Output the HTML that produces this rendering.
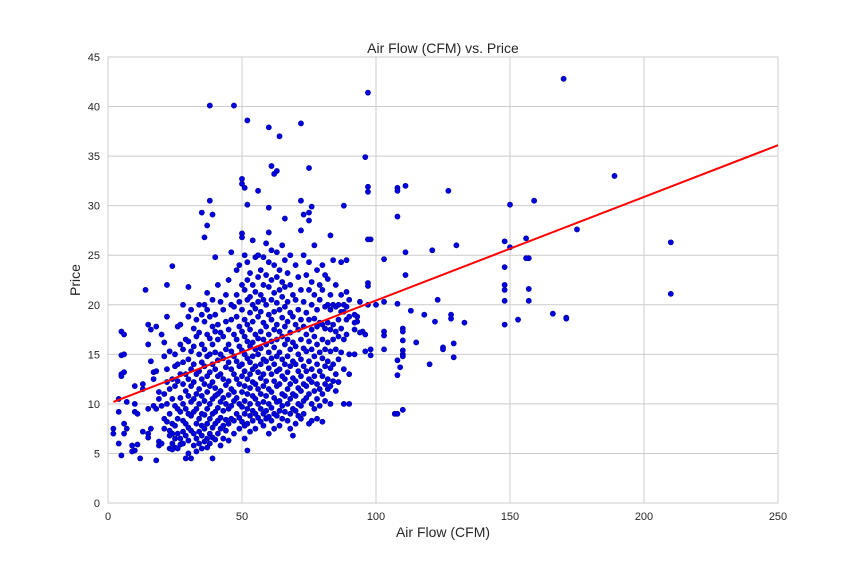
<!DOCTYPE html>
<html><head><meta charset="utf-8"><style>
body{margin:0;background:#fff;}
svg{display:block;font-family:"Liberation Sans",sans-serif;}
</style></head><body>
<svg id="chart" width="864" height="576">
<rect width="864" height="576" fill="#fff"/>
<g id="grid"></g>
<rect x="108" y="57" width="670" height="446" fill="none" stroke="#cccccc" stroke-width="1"/>
<g id="xticks"></g>
<g id="yticks"></g>
<g id="points"></g>
<g id="fit"></g>
<text x="443" y="53" text-anchor="middle" font-size="14" fill="#262626">Air Flow (CFM) vs. Price</text>
<text x="443" y="537" text-anchor="middle" font-size="14" fill="#262626">Air Flow (CFM)</text>
<text x="80" y="280" text-anchor="middle" font-size="14" fill="#262626" transform="rotate(-90 80 280)">Price</text>
</svg>
<script>
const xTicks=[0,50,100,150,200,250];
const yTicks=[0,5,10,15,20,25,30,35,40,45];
const fitX=[2,250];
const fitY=[10.2,36.1];
const outlierX=[170,97,38,47,52,60,72,64,96,61,63,75,62,50,50,51,56,97,97,108,108,111,127,189,38,35,39,52,60,66,72,76,75,73,88,108,150,159,175,210,210,37,36,40,24,22,14,30,98,97,103,111,121,130,148,150,156,157,156,148,111,148,148,157,148,157,123,113,118,128,128,133,148,153,166,171,171,122,110,110,103,103,110,115,125,125,129,110,110,110,129,108,109,120,108,107,108,110,90,103,98,96,98,100,97,97,97,103,108,93,93,95,96];
const outlierY=[42.8,41.4,40.1,40.1,38.6,37.9,38.3,37,34.9,34,33.5,33.8,33.2,32.7,32.2,31.8,31.5,31.9,31.4,31.8,31.5,32,31.5,33,30.5,29.3,29.1,30.1,29.8,28.7,30.5,29.9,29.3,29.1,30,28.9,30.1,30.5,27.6,26.3,21.1,28,26.8,24.8,23.9,22,21.5,21.8,26.6,26.6,24.6,25.3,25.5,26,26.4,25.8,26.7,24.7,24.7,23.8,23,22,21.5,21.6,20.4,20.4,20.5,19.4,19,19,18.6,18.2,18,18.5,19.1,18.7,18.6,18.3,17.6,17.3,17.3,16.9,16.4,16.2,15.7,15.5,16.1,15.4,15,14.8,14.7,14.4,13.7,14,12.9,9,9,9.4,10,15.5,15.5,15.3,14.9,20,22.2,21.9,20,20.3,20.1,18.8,18.3,17.3,17];
const clusterX=[2,4,5,6,7,9,10,11,12,13,15,16,17,18,19,20,21,22,23,24,25,26,27,28,29,30,31,32,33,34,35,36,37,38,39,40,41,42,43,44,45,46,47,48,49,50,51,52,53,54,55,56,57,58,59,60,61,62,63,64,65,66,67,68,69,70,71,72,73,74,75,76,77,78,79,80,81,82,83,84,85,86,87,88,89,90,92,94];
const clusterPrices=[[7.5,7],[10.5,9.2,6],[17.3,14.9,13,12.8,4.8],[17,15,13.2,8,7],[10.2,7.5],[5.8,5.2],[11.8,10,9.2,5.3],[9,5.9],[4.5],[12,11.5,7.2],[18,16,9.5,7,6.6],[17.5,14.3,7.5],[13.2,12.5,9.8],[17.8,13.3,9.5,4.3],[11.2,10.5,6.2,5.8],[17,9.8,6],[16.2,14.8,11,8.5,7.5],[18.8,13.5,12.2,10,8.2],[15.3,11.5,9,7.3,6.8,5.5],[12.5,10.5,8,7,6,5.4],[15,13.8,11.8,9.8,7.8,6.5,5.6],[17.8,14,12.3,9.5,8.5,7,5.5],[18,16,13,10.6,9.2,6.5,5.9],[20,15.5,14.2,12,10,8.3,7.2,6],[16.5,13,11.3,9.5,8,6.8,4.5],[18.8,16.3,14.5,12.5,10.8,9,7.6,6.3,5],[19.5,15.3,13.5,11.8,10.2,8.8,7.3,4.5],[17.6,15.8,14,12.2,10.5,9.2,7,5.8],[18.5,16.8,13,11,9.5,8,6.5,5.2],[20,17.2,15,13.3,11.5,10,8.5,7.2,6],[19,16,14.2,12.5,10.8,9,7.8,6.8,5.5],[20,18.3,15.5,13.8,12,10.3,8.9,7.5,6.2],[21.2,19.5,17,14.8,12.8,11.2,9.5,8,6.5,5.6],[18.8,16.6,15,13.2,11.8,10,8.5,7,6],[20.5,17.8,16,14,12.2,10.5,9,7.6,6.6,4.5],[19,17.3,15.2,13.5,11.6,10.8,9.2,8,6.4],[22,18,16.5,14.4,12.8,11,9.6,8.3,7],[20.3,17.2,15,13,11.3,10.2,8.6,7.5,5.8],[19.5,16.8,14.6,12.5,10.6,9.3,7.8,6.5],[21,18.3,15.5,13.7,11.9,10,8.4,7.3],[22.5,17.5,16,14.2,12.3,10.9,9.5,8,6.3],[25.3,20,18.5,15.3,13.5,11.5,9.8,8.5],[19.8,17,14.8,13,11.2,10.3,8.3,7],[23.5,21,18.8,16.5,14.3,12.5,10.6,9],[24,20.3,17.8,15.8,13.8,12,10,8.6,7.5],[27.2,26.8,22,19.5,17.3,15.4,14,12.8,11.2,9.7,8.2],[25,21.5,18.5,16.8,15,13.3,11.8,10.3,9,7.8,6.5],[24.3,22.5,20.5,18,16.3,14.6,12.5,11,9.5,8,5.3],[23.2,20.8,19.2,17.5,15.8,14.2,13,11.6,10,8.8,7.2],[26.5,22,20,18.3,16.2,14.8,13.5,12.2,10.8,9.3,8.3],[24.8,21.3,19.6,17,15.5,13.8,12,10.5,9,7.5],[25,22.8,20.3,18.8,16.6,15,13.2,11.5,10,8.6],[23.5,21,19.3,17.3,15.6,14,12.6,11,9.5,8.2],[24.8,22,20.5,18.2,16.5,14.5,13,11.8,10.2,9,7.8],[26.2,23,20,17.8,16,14.3,12.3,10.8,9.3,8.5],[27.3,24.3,21.8,19,17,15.2,13.6,11.5,10,8.7,7],[25.5,22.5,20.5,18.5,16.3,14.6,13,11.2,9.6,8.3],[24,21.2,19.3,17.5,15.7,14,12.3,10.6,9,7.5],[25.3,22.8,20.2,18,16.5,14.8,13.3,11.8,10.2,8.8],[23.5,21.5,19.5,17.3,15.2,13.5,12,10.3,9.3,7.8],[26,22.3,20.8,18.7,16.8,14.5,12.8,11,9.8,8.5],[24.5,21.8,19.8,17.8,16,14,12.5,10.8,9.2],[23.2,20.3,18.3,16.5,14.8,13.2,11.5,10,8.3],[25,22,19.2,17.2,15.5,13.8,12,10.5,9,7.5],[21,18.8,16.2,14.3,12.6,11,9.5,6.8],[24,20.5,18,15.8,14,12.3,10.8,9.3,8],[22.8,19.5,17.5,15,13.3,11.6,10,8.8],[27.5,21.5,18.5,16.5,14.5,12.8,11.3,9.8,8.5],[25,20.3,17.8,15.6,13.8,12,10.3,9],[23,19.2,17,15.3,13.3,11.8,10.6],[28.5,24.3,21.5,18.5,16.3,14.3,12.5,11,8],[22.3,20,17.5,15.5,13.5,12.2,10,8.3],[26,21,18.6,16.8,14.8,12.8,11.3,9.5],[23.5,19.5,17.8,16,14,12,10.5,8.5],[22,20.5,18.2,15.2,13.3,11.5,9.8],[24,21.5,18,16.5,14.6,12.8,11,8.2],[23,19.8,17.6,15.5,13.8,12,10.3],[22.6,20,18.2,16.2,14.3,12.5,11.5],[27,21,19.5,17.5,15.3,13.6,11.8,10],[24.5,20,18,16.5,14,12.3],[22,19.8,17.3,15.5,13,11.3],[20,18.5,16.8,14.5,12.2],[24.3,21,19.3,17.6,15.2],[20,19.3,16.5,13.5,10],[24.5,21.3,19.8,18.5,17],[20.5,18.8,15,13],[19,18.2,17.5,15],[20.3,17.2]];

const NS='http://www.w3.org/2000/svg';
const X0=108,X1=778,Y0=503,Y1=57;
function sx(v){return X0+(v-0)/(250-0)*(X1-X0);}
function sy(v){return Y0-(v-0)/(45-0)*(Y0-Y1);}
function mk(tag,attrs,parent){const e=document.createElementNS(NS,tag);for(const k in attrs)e.setAttribute(k,attrs[k]);parent.appendChild(e);return e;}
const grid=document.getElementById('grid'),xt=document.getElementById('xticks'),yt=document.getElementById('yticks');
xTicks.forEach(t=>{
  const l=mk('line',{x1:sx(t),x2:sx(t),y1:Y1,y2:Y0,stroke:'#cccccc','stroke-width':1},grid);
  
  
  const tx=mk('text',{x:sx(t),y:Y0+17,'text-anchor':'middle','font-size':11,fill:'#262626'},xt);
  tx.textContent=t;
  
  
});
yTicks.forEach(t=>{
  const l=mk('line',{x1:X0,x2:X1,y1:sy(t),y2:sy(t),stroke:'#cccccc','stroke-width':1},grid);
  
  
  const tx=mk('text',{x:X0-8,y:sy(t)+4,'text-anchor':'end','font-size':11,fill:'#262626'},yt);
  tx.textContent=t;
  
  
});
const pts=document.getElementById('points');
const allX=[],allY=[];
outlierX.forEach((x,i)=>{allX.push(x);allY.push(outlierY[i]);});
clusterX.forEach((x,i)=>{clusterPrices[i].forEach(p=>{allX.push(x);allY.push(p);});});
allX.forEach((x,i)=>{
  const c=mk('circle',{cx:sx(x),cy:sy(allY[i]),r:2.6,fill:'#0000e6',stroke:'#00008b','stroke-width':0.6},pts);
  
  
});
const fl=mk('line',{x1:sx(fitX[0]),y1:sy(fitY[0]),x2:sx(fitX[1]),y2:sy(fitY[1]),stroke:'#ff0000','stroke-width':2},document.getElementById('fit'));


</script>
</body></html>
